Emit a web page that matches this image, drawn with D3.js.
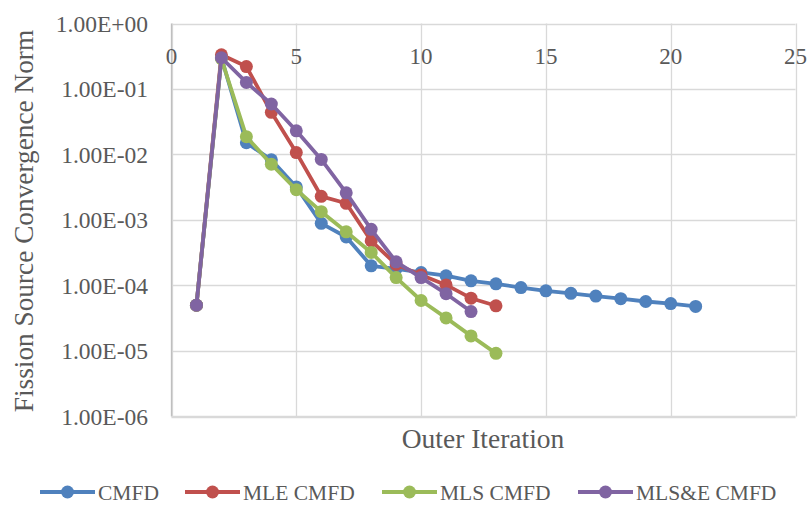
<!DOCTYPE html>
<html><head><meta charset="utf-8">
<script src="https://cdn.jsdelivr.net/npm/d3@7"></script>
<style>body{margin:0;background:#fff}svg{display:block}text{font-family:"Liberation Serif",serif;fill:#595959}</style>
</head><body><svg id="c" width="808" height="515"></svg>
<script>
const seriesNames = ["CMFD","MLE CMFD","MLS CMFD","MLS&E CMFD"];
const colors = ["#4F81BD","#C0504D","#9BBB59","#8064A2"];
const cmfd   = [5e-5,0.30,0.0151,0.0083,0.0032,0.00089,0.00055,0.00020,0.00018,0.000158,0.000141,0.000118,0.000106,0.000093,0.000083,0.000076,0.000069,0.000063,0.000057,0.000053,0.000048];
const mle    = [5e-5,0.333,0.22,0.044,0.0107,0.0023,0.0018,0.00048,0.00021,0.000145,0.000102,0.000064,0.000049];
const mls    = [5e-5,0.29,0.0187,0.0071,0.0029,0.00134,0.00066,0.00032,0.000132,0.000059,0.000032,0.000017,0.0000092];
const mlse   = [5e-5,0.30,0.126,0.059,0.023,0.0084,0.0026,0.00072,0.00023,0.000132,0.000075,0.000040];
const xTicks = [0,5,10,15,20,25];
const yTicks = [1,1e-1,1e-2,1e-3,1e-4,1e-5,1e-6];
const yTickLabels = ["1.00E+00","1.00E-01","1.00E-02","1.00E-03","1.00E-04","1.00E-05","1.00E-06"];
const allSeries = [cmfd, mle, mls, mlse];

const svg = d3.select("#c");
const L=171.5, R=795.5, T=23.5, B=416.5;
const x = d3.scaleLinear().domain([0,25]).range([L,R]);
const y = d3.scaleLog().domain([1e-6,1]).range([B,T]);

// gridlines
svg.append("g").selectAll("line").data(yTicks).join("line")
  .attr("x1",L).attr("x2",R).attr("y1",d=>Math.round(y(d))+0.5).attr("y2",d=>Math.round(y(d))+0.5)
  .attr("stroke","#d9d9d9").attr("stroke-width",1.3);
svg.append("g").selectAll("line").data(xTicks).join("line")
  .attr("y1",T).attr("y2",B).attr("x1",d=>Math.round(x(d))+0.5).attr("x2",d=>Math.round(x(d))+0.5)
  .attr("stroke","#d9d9d9").attr("stroke-width",1.3);
// axis lines
svg.append("line").attr("x1",L).attr("x2",L).attr("y1",T).attr("y2",B).attr("stroke","#bfbfbf").attr("stroke-width",1.3);
svg.append("line").attr("x1",L).attr("x2",R).attr("y1",B).attr("y2",B).attr("stroke","#d9d9d9").attr("stroke-width",1.3);

// tick labels
svg.append("g").selectAll("text").data(xTicks).join("text")
  .attr("x",d=>x(d)).attr("y",64).attr("text-anchor","middle").attr("font-size",23).text(d=>d);
svg.append("g").selectAll("text").data(yTicks).join("text")
  .attr("x",148).attr("y",d=>y(d)+8).attr("text-anchor","end").attr("font-size",23.5)
  .text((d,i)=>yTickLabels[i]);

// axis titles
svg.append("text").attr("x",483).attr("y",448).attr("text-anchor","middle").attr("font-size",27.5).text("Outer Iteration");
svg.append("text").attr("transform","translate(33,221) rotate(-90)").attr("text-anchor","middle").attr("font-size",27.3).text("Fission Source Convergence Norm");

// series
const line = d3.line().x((d,i)=>x(i+1)).y(d=>y(d));
allSeries.forEach((s,k)=>{
  const g = svg.append("g");
  g.append("path").attr("d",line(s)).attr("fill","none").attr("stroke",colors[k]).attr("stroke-width",3.8).attr("stroke-linejoin","round");
  g.selectAll("circle").data(s).join("circle").attr("cx",(d,i)=>x(i+1)).attr("cy",d=>y(d)).attr("r",6.5).attr("fill",colors[k]);
});

// legend
const legX = [40,185,382,578];
seriesNames.forEach((n,k)=>{
  const g = svg.append("g").attr("transform",`translate(${legX[k]},492)`);
  g.append("line").attr("x1",0).attr("x2",55).attr("stroke",colors[k]).attr("stroke-width",3.8);
  g.append("circle").attr("cx",27.5).attr("cy",0).attr("r",6.5).attr("fill",colors[k]);
  g.append("text").attr("x",58).attr("y",7.5).attr("font-size",21.5).text(n);
});
</script></body></html>
